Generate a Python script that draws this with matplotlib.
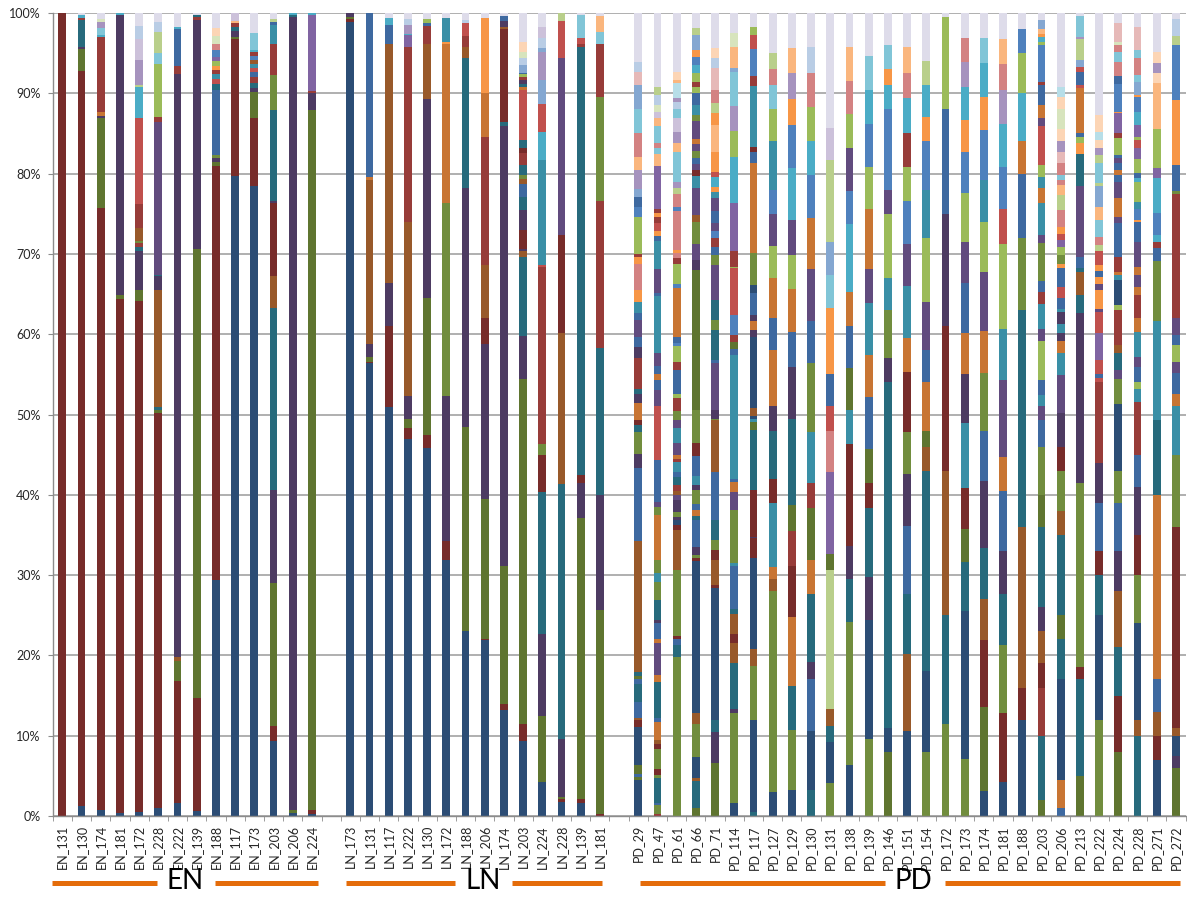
import numpy as np
import matplotlib.pyplot as plt
from matplotlib.transforms import blended_transform_factory

plt.rcParams['font.family'] = ['Lato', 'DejaVu Sans']

# colour codes: 0-5 dark, 6-11 medium, 12-17 base, 18-23 light, 24-29 pale shades, 30 = rest
palette = ['#2C4D75', '#772C2A', '#5F7530', '#4D3B62', '#276A7C', '#98592A',
           '#3E69A0', '#973C39', '#718D3E', '#614B7E', '#3A8FA6', '#C87533',
           '#4F81BD', '#C0504D', '#9BBB59', '#8064A2', '#4BACC6', '#F79646',
           '#84A7D1', '#D38282', '#B9CF8B', '#A693BE', '#81C5D7', '#FAB67E',
           '#B9CDE5', '#E6B9B8', '#D7E4BD', '#CCC1DA', '#B7DEE8', '#FCD5B5',
           '#DEDCEA']

en_labels = ['EN_131', 'EN_130', 'EN_174', 'EN_181', 'EN_172', 'EN_228', 'EN_222',
             'EN_139', 'EN_188', 'EN_117', 'EN_173', 'EN_203', 'EN_206', 'EN_224']
ln_labels = ['LN_173', 'LN_131', 'LN_117', 'LN_222', 'LN_130', 'LN_172', 'LN_188',
             'LN_206', 'LN_174', 'LN_203', 'LN_224', 'LN_228', 'LN_139', 'LN_181']
pd_labels = ['PD_29', 'PD_47', 'PD_61', 'PD_66', 'PD_71', 'PD_114', 'PD_117', 'PD_127',
             'PD_129', 'PD_130', 'PD_131', 'PD_138', 'PD_139', 'PD_146', 'PD_151', 'PD_154',
             'PD_172', 'PD_173', 'PD_174', 'PD_181', 'PD_188', 'PD_203', 'PD_206', 'PD_213',
             'PD_222', 'PD_224', 'PD_228', 'PD_271', 'PD_272']

# each bar: (colour code, % share) from bottom to top
en_segments = [
    [(1, 100)],
    [(0, 1.2), (1, 91.6), (2, 2.7), (3, 0.3), (4, 3.3), (7, 0.3), (16, 0.3), (30, 0.3)],
    [(0, 0.8), (1, 74.9), (2, 11.2), (3, 0.3), (11, 0.5), (7, 9.3), (16, 0.3), (22, 0.8), (21, 0.8), (26, 0.3), (30, 0.8)],
    [(0, 0.4), (1, 64.0), (2, 0.5), (3, 34.8), (16, 0.3)],
    [(0, 0.5), (1, 63.6), (2, 1.4), (3, 4.8), (4, 0.5), (7, 0.5), (8, 0.3), (5, 1.6), (7, 3.0), (13, 10.7), (16, 3.9),
     (20, 0.2), (21, 3.2), (27, 2.5), (24, 1.7), (30, 1.6)],
    [(0, 1.0), (1, 49.2), (2, 0.4), (4, 0.3), (5, 14.6), (3, 1.7), (4, 0.2), (9, 19.0), (7, 0.7), (14, 6.6), (22, 1.3),
     (20, 2.6), (24, 1.3), (30, 1.1)],
    [(0, 1.6), (1, 15.2), (2, 2.5), (5, 0.5), (3, 72.6), (7, 1.0), (6, 4.6), (16, 0.3), (30, 1.7)],
    [(0, 0.6), (1, 14.1), (2, 55.9), (3, 28.5), (7, 0.4), (4, 0.3), (30, 0.2)],
    [(0, 29.4), (1, 51.6), (2, 0.5), (3, 0.4), (8, 0.4), (6, 8.1), (4, 0.8), (13, 0.6), (10, 0.6), (7, 0.5), (17, 0.5),
     (14, 0.6), (15, 0.5), (12, 0.9), (19, 0.8), (26, 0.9), (29, 1.0), (30, 1.9)],
    [(0, 79.7), (1, 17.0), (2, 0.3), (3, 0.8), (4, 0.5), (7, 0.4), (23, 0.3), (27, 1.0)],
    [(0, 78.5), (1, 8.4), (2, 3.2), (3, 0.6), (4, 0.6), (7, 0.7), (6, 0.6), (13, 0.5), (10, 0.6), (5, 0.4), (12, 0.5),
     (7, 0.5), (16, 0.3), (22, 2.1), (30, 2.5)],
    [(0, 9.3), (1, 1.9), (2, 17.8), (3, 11.6), (4, 22.7), (5, 3.9), (1, 9.1), (3, 0.3), (4, 11.3), (8, 4.4), (7, 3.8),
     (10, 2.4), (6, 0.4), (20, 0.4), (30, 0.7)],
    [(0, 0.4), (2, 0.3), (3, 98.8), (4, 0.3), (16, 0.2)],
    [(0, 0.3), (1, 0.4), (2, 87.2), (3, 2.1), (7, 0.3), (15, 9.4), (16, 0.3)],
]

ln_segments = [
    [(0, 98.9), (1, 0.3), (2, 0.3), (3, 0.5)],
    [(0, 56.4), (1, 0.2), (2, 0.5), (3, 1.7), (5, 20.4), (11, 0.4), (6, 20.4)],
    [(0, 50.9), (1, 10.1), (3, 5.4), (5, 29.7), (6, 2.4), (16, 0.9), (30, 0.6)],
    [(0, 46.9), (1, 1.4), (2, 1.1), (3, 2.9), (5, 21.7), (7, 21.8), (15, 1.4), (16, 0.2), (21, 1.1), (24, 0.7), (30, 0.8)],
    [(0, 45.8), (1, 1.6), (2, 17.1), (3, 24.8), (5, 6.9), (7, 2.2), (6, 0.4), (14, 0.4), (30, 0.8)],
    [(0, 31.9), (1, 2.3), (2, 0.1), (3, 18.0), (8, 24.0), (11, 19.9), (17, 0.2), (10, 3.0), (30, 0.6)],
    [(0, 23.0), (1, 0.1), (2, 25.3), (3, 29.8), (4, 16.2), (5, 1.4), (7, 1.3), (13, 1.7), (24, 0.3), (30, 0.9)],
    [(0, 21.9), (1, 0.2), (2, 17.4), (3, 19.3), (1, 3.2), (5, 6.6), (7, 16.0), (11, 5.4), (17, 9.4), (30, 0.6)],
    [(0, 13.2), (1, 0.7), (2, 17.2), (3, 54.8), (4, 0.5), (1, 11.6), (5, 0.3), (3, 0.7), (6, 0.6), (30, 0.4)],
    [(0, 9.3), (1, 2.2), (2, 42.9), (3, 5.4), (4, 9.8), (5, 0.7), (3, 0.3), (1, 2.4), (3, 2.5), (4, 1.6), (6, 1.6),
     (5, 0.6), (8, 0.5), (4, 1.3), (7, 1.5), (1, 0.6), (4, 1.0), (13, 6.2), (11, 0.4), (4, 0.4), (3, 0.4), (7, 0.4),
     (14, 0.4), (6, 0.1), (18, 1.0), (24, 0.9), (26, 0.8), (29, 1.2), (30, 3.6)],
    [(0, 4.2), (2, 8.3), (3, 10.2), (4, 17.7), (1, 4.6), (8, 1.3), (7, 22.1), (13, 0.2), (10, 13.1), (16, 3.5),
     (13, 3.5), (18, 3.0), (21, 3.4), (18, 0.6), (24, 1.2), (27, 1.4), (30, 1.7)],
    [(0, 1.8), (1, 0.3), (2, 0.3), (3, 7.2), (4, 31.8), (5, 18.8), (1, 12.2), (9, 22.0), (13, 4.6), (20, 1.0)],
    [(0, 1.6), (1, 0.5), (2, 35.0), (3, 4.4), (1, 1.0), (4, 53.3), (7, 0.4), (13, 0.7), (22, 2.9), (30, 0.2)],
    [(1, 0.3), (2, 25.4), (3, 14.3), (4, 18.3), (7, 18.3), (8, 12.9), (7, 6.7), (22, 1.4), (23, 2.0), (30, 0.4)],
]

pd_segments = [
    # PD_29
    [(0, 4.5), (2, 0.3), (6, 0.4), (2, 1.2), (0, 4.7), (1, 0.8), (5, 0.3), (6, 2.0), (4, 2.3), (6, 0.5), (2, 0.4),
     (4, 0.5), (5, 16.3), (6, 9.1), (3, 1.8), (8, 2.7), (4, 0.9), (1, 0.6), (11, 2.1), (3, 1.2), (4, 0.6), (7, 3.8),
     (3, 1.4), (6, 1.3), (9, 2.1), (6, 0.9), (10, 1.3), (17, 1.5), (19, 3.3), (17, 0.8), (7, 0.4), (14, 4.6),
     (12, 1.3), (6, 1.2), (18, 1.0), (21, 2.3), (23, 1.7), (19, 2.9), (22, 3.1), (18, 2.9), (25, 1.7), (24, 1.2),
     (30, 6.1)],
    # PD_47
    [(7, 0.25), (8, 1.15), (6, 0.2), (4, 3.1), (8, 0.4), (1, 0.8), (8, 2.5), (1, 0.6), (5, 0.5), (11, 2.2), (6, 0.5),
     (4, 4.5), (11, 0.9), (9, 3.9), (11, 0.5), (6, 2.0), (3, 0.4), (4, 2.5), (8, 2.3), (10, 1.0), (8, 1.7), (11, 5.6),
     (8, 1.0), (9, 0.6), (6, 5.2), (13, 6.7), (9, 2.1), (6, 1.2), (11, 0.8), (6, 0.9), (9, 1.6), (10, 7.1), (6, 0.4),
     (9, 3.0), (10, 3.5), (6, 0.6), (17, 0.6), (13, 1.0), (7, 0.8), (17, 0.5), (7, 0.5), (15, 5.3), (23, 1.6),
     (22, 0.7), (19, 0.6), (22, 2.1), (23, 1.0), (27, 0.8), (26, 0.8), (24, 1.3), (20, 1.0), (30, 9.2)],
    # PD_61
    [(8, 19.8), (4, 1.5), (6, 0.8), (1, 0.3), (8, 8.2), (5, 5.0), (1, 0.6), (0, 0.7), (3, 0.3), (8, 0.7), (3, 1.5),
     (9, 0.6), (5, 0.5), (7, 0.7), (4, 1.0), (6, 0.6), (10, 1.3), (7, 0.3), (11, 0.5), (9, 1.5), (10, 1.9), (9, 1.0),
     (8, 1.1), (7, 1.6), (14, 0.6), (6, 2.9), (7, 1.1), (14, 1.9), (12, 0.4), (6, 0.8), (11, 6.0), (12, 0.6),
     (14, 2.5), (7, 0.7), (19, 0.6), (17, 0.4), (19, 4.9), (12, 0.5), (19, 1.6), (20, 0.7), (21, 0.7), (22, 3.8),
     (23, 1.1), (21, 1.4), (27, 1.7), (22, 1.2), (24, 0.8), (21, 0.5), (28, 1.9), (23, 0.4), (29, 1.0), (30, 7.3)],
    # PD_66
    [(2, 0.95), (4, 3.35), (5, 0.4), (0, 2.7), (8, 4.1), (5, 1.3), (0, 18.9), (1, 0.4), (8, 0.4), (3, 1.0), (6, 3.4),
     (4, 0.4), (11, 0.8), (6, 0.8), (8, 1.7), (3, 0.6), (10, 1.1), (6, 2.5), (1, 1.6), (8, 4.2), (2, 17.4), (3, 1.2),
     (9, 2.0), (8, 2.8), (5, 0.9), (9, 3.3), (10, 1.5), (1, 0.7), (9, 0.8), (6, 0.8), (8, 0.8), (9, 0.9), (11, 0.6),
     (9, 2.2), (8, 0.8), (10, 1.2), (6, 1.5), (14, 0.8), (7, 0.6), (14, 1.1), (16, 1.0), (12, 1.0), (17, 0.9),
     (18, 1.9), (20, 0.8), (30, 1.9)],
    # PD_71
    [(2, 6.6), (3, 3.9), (4, 1.5), (0, 16.4), (1, 0.4), (5, 3.1), (1, 1.2), (8, 1.3), (4, 2.5), (6, 6.0), (5, 6.4),
     (8, 0.2), (3, 1.1), (9, 5.8), (6, 0.4), (4, 3.7), (8, 1.3), (4, 2.5), (9, 4.3), (8, 1.3), (6, 1.0), (7, 1.1),
     (12, 0.8), (9, 1.1), (6, 1.5), (9, 1.5), (10, 0.8), (17, 0.6), (16, 1.3), (13, 0.6), (17, 2.5), (23, 3.3),
     (17, 1.5), (20, 1.3), (19, 1.6), (25, 2.7), (24, 1.3), (29, 1.2), (30, 4.4)],
    # PD_114
    [(0, 1.6), (8, 11.2), (3, 0.5), (4, 5.7), (5, 2.5), (1, 1.2), (5, 2.5), (4, 0.6), (6, 5.3), (10, 0.4), (8, 6.6),
     (9, 2.3), (11, 1.2), (6, 0.4), (10, 15.4), (6, 0.8), (2, 0.8), (7, 0.9), (12, 2.5), (13, 5.8), (14, 0.2),
     (7, 1.9), (15, 6.0), (16, 5.8), (14, 3.2), (21, 3.1), (22, 4.3), (18, 0.4), (23, 2.7), (26, 1.7), (30, 2.5)],
    # PD_117
    [(4, 0.5), (0, 11.5), (8, 6.7), (5, 2.1), (0, 11.3), (1, 2.5), (3, 0.2), (1, 5.8), (4, 7.5), (2, 1.0), (10, 0.4),
     (0, 0.3), (5, 1.0), (0, 8.9), (3, 0.8), (11, 1.1), (3, 0.8), (6, 2.7), (0, 1.0), (8, 4.0), (11, 11.2), (6, 1.4),
     (1, 0.6), (10, 7.6), (7, 1.3), (12, 3.3), (13, 1.7), (14, 1.0), (30, 1.8)],
    # PD_127
    [(0, 3), (8, 25), (5, 1.5), (11, 1.5), (10, 8), (1, 3), (4, 6), (3, 3), (11, 7), (6, 4), (11, 5), (14, 4), (9, 4),
     (12, 3), (10, 6), (14, 4), (22, 3), (19, 2), (20, 2), (30, 5)],
    # PD_129
    [(0, 3), (8, 7), (4, 5), (11, 8), (1, 6), (7, 4), (2, 3), (4, 10), (3, 6), (6, 4), (11, 5), (14, 4), (9, 4),
     (16, 6), (12, 5), (17, 3), (21, 3), (23, 3), (30, 4)],
    # PD_130
    [(4, 3), (0, 7), (6, 6), (3, 2), (4, 8), (11, 4), (2, 6), (7, 3), (10, 6), (8, 8), (6, 5), (9, 6), (11, 6),
     (12, 5), (16, 4), (14, 4), (19, 4), (24, 3), (30, 4)],
    # PD_131
    [(8, 4), (0, 5), (4, 2), (5, 2), (20, 17), (2, 2), (15, 10), (19, 5), (13, 3), (6, 4), (17, 8), (22, 4), (18, 4),
     (20, 10), (27, 4), (30, 14)],
    # PD_138
    [(0, 6), (8, 17), (4, 5), (3, 4), (1, 12), (10, 4), (2, 5), (6, 5), (11, 4), (16, 8), (12, 4), (9, 5), (14, 4),
     (19, 4), (23, 4), (30, 4)],
    # PD_139
    [(8, 9), (0, 14), (3, 5), (4, 8), (1, 3), (2, 4), (6, 6), (11, 5), (10, 6), (9, 4), (11, 7), (14, 5), (12, 5),
     (16, 4), (22, 4), (30, 5)],
    # PD_146
    [(2, 8), (0, 3), (4, 43), (3, 3), (8, 6), (10, 4), (14, 8), (9, 3), (12, 10), (16, 3), (17, 2), (22, 3), (30, 4)],
    # PD_151
    [(0, 10), (5, 9), (4, 7), (6, 8), (3, 6), (8, 5), (1, 7), (11, 4), (10, 6), (9, 5), (12, 5), (14, 4), (7, 4),
     (16, 4), (19, 3), (23, 3), (30, 4)],
    # PD_154
    [(8, 8), (0, 10), (4, 25), (5, 3), (2, 2), (11, 6), (6, 4), (9, 6), (14, 8), (10, 6), (12, 6), (17, 3), (16, 4),
     (20, 3), (30, 6)],
    # PD_172
    [(8, 11.5), (4, 13.5), (5, 18), (1, 18), (3, 14), (6, 13), (14, 11.5), (30, 0.5)],
    # PD_173
    [(8, 7), (0, 18), (4, 6), (2, 4), (1, 5), (10, 8), (3, 6), (11, 5), (6, 6), (9, 5), (14, 6), (12, 5), (17, 4),
     (16, 4), (21, 3), (19, 3), (30, 3)],
    # PD_174
    [(0, 3), (2, 10), (1, 8), (5, 5), (4, 6), (3, 8), (6, 6), (8, 7), (11, 5), (9, 7), (14, 6), (10, 5), (12, 6),
     (17, 4), (16, 4), (22, 3), (30, 3)],
    # PD_181
    [(0, 4), (1, 8), (8, 8), (4, 6), (3, 5), (6, 7), (11, 4), (9, 9), (10, 6), (14, 10), (13, 4), (12, 5), (16, 5),
     (21, 4), (19, 3), (23, 3), (30, 3)],
    # PD_188
    [(0, 12), (1, 4), (5, 20), (4, 27), (8, 9), (6, 8), (11, 4), (16, 6), (14, 5), (12, 3), (30, 2)],
    # PD_203
    [(2, 2), (4, 8), (7, 6), (1, 3), (5, 4), (3, 3), (4, 10), (2, 4), (8, 6), (6, 3.3),
     (9, 1.8), (10, 1.3), (6, 1.9), (14, 4.9), (9, 1.5), (10, 3.1), (7, 1.5), (6, 1.3), (8, 4.7), (9, 1.1), (10, 3.9),
     (11, 1.9), (10, 1.4), (14, 1.5), (13, 4.8), (9, 1.0), (11, 1.6), (6, 2.5), (7, 0.4), (12, 4.6), (14, 0.4),
     (16, 0.6), (17, 0.4), (23, 0.6), (18, 1.1), (30, 0.9)],
    # PD_206
    [(6, 1), (11, 3.5), (0, 12.5), (4, 5), (2, 3), (4, 10), (5, 3), (8, 5), (1, 3), (3, 4.2),
     (9, 4.7), (10, 2.7), (11, 1.5), (3, 1.0), (10, 1.2), (3, 1.5), (10, 0.4), (6, 1.3), (13, 1.4), (6, 2.3),
     (17, 0.6), (8, 1.1), (14, 1.0), (15, 0.8), (13, 0.8), (17, 0.9), (19, 2.1), (20, 1.8), (23, 1.3), (19, 0.6),
     (22, 0.6), (19, 1.5), (25, 1.4), (21, 1.3), (29, 1.6), (26, 2.4), (29, 1.6), (28, 1.2), (30, 9.2)],
    # PD_213
    [(2, 5), (4, 12), (1, 1.5), (8, 23), (3, 7.8),
     (3, 13.3), (4, 2.3), (5, 2.9), (4, 0.4), (6, 1.4), (9, 8.8), (4, 4.1), (17, 1.3), (14, 0.7), (6, 0.5), (11, 5.6),
     (13, 0.4), (6, 1.7), (13, 0.6), (18, 0.9), (20, 2.6), (21, 0.2), (22, 2.6), (30, 0.4)],
    # PD_222
    [(8, 12), (0, 13), (4, 5), (1, 3), (6, 6), (3, 5), (7, 5.3),
     (7, 4.8), (13, 0.4), (6, 0.6), (13, 1.7), (15, 3.3), (13, 2.7), (9, 0.4), (17, 2.3), (9, 0.8), (17, 0.8),
     (6, 0.8), (17, 0.7), (13, 1.7), (20, 0.8), (19, 1.0), (22, 2.1), (23, 1.7), (18, 2.5), (20, 0.4), (22, 2.5),
     (20, 1.0), (21, 0.9), (29, 1.0), (28, 1.0), (29, 2.1), (30, 12.7)],
    # PD_224
    [(2, 8), (1, 7), (4, 6), (5, 7), (3, 5), (6, 6), (8, 4), (0, 6.3),
     (0, 2.0), (8, 3.1), (9, 1.1), (4, 2.1), (5, 1.0), (7, 4.4), (14, 0.6), (0, 3.2), (10, 0.6), (11, 0.4),
     (7, 1.8), (6, 4.2), (9, 0.8), (11, 2.4), (9, 2.0), (6, 0.8), (11, 0.6), (6, 0.9), (9, 0.6), (6, 0.4),
     (14, 2.1), (7, 0.6), (15, 2.5), (17, 0.2), (12, 3.5), (6, 0.9), (19, 1.8), (22, 1.3), (19, 0.8), (26, 0.4),
     (25, 2.3), (30, 1.3)],
    # PD_228
    [(4, 10), (5, 2), (0, 12), (8, 6), (1, 5), (3, 6), (6, 4), (7, 4.3),
     (7, 2.3), (10, 1.6), (14, 0.9), (6, 1.8), (9, 1.3), (10, 3.1), (11, 1.7), (7, 2.9), (11, 1.0), (9, 1.5),
     (11, 1.0), (9, 3.1), (6, 2.5), (17, 0.2), (12, 1.4), (10, 0.9), (14, 2.5), (16, 0.4), (6, 0.7), (14, 1.7),
     (15, 1.4), (13, 1.0), (14, 0.4), (15, 1.4), (16, 1.7), (12, 1.8), (17, 0.3), (18, 1.6), (22, 0.9), (19, 2.1),
     (22, 1.0), (25, 1.2), (25, 1.7), (30, 1.7)],
    # PD_271
    [(0, 7), (1, 3), (5, 3), (6, 4), (11, 23), (4, 9.3),
     (10, 7.9), (10, 4.4), (8, 7.5), (6, 1.6), (7, 0.8), (16, 0.9), (12, 2.7), (16, 4.3), (15, 1.3), (14, 4.8),
     (23, 2.9), (23, 2.9), (29, 1.2), (21, 1.3), (29, 1.4), (30, 4.8)],
    # PD_272
    [(2, 6), (3, 1.5), (0, 2.5), (5, 1), (1, 25), (8, 9), (10, 5.3),
     (10, 0.8), (11, 1.4), (6, 2.7), (9, 1.4), (14, 2.1), (6, 1.2), (9, 2.1), (7, 15.4), (8, 0.4), (6, 3.3),
     (17, 8.1), (12, 6.8), (20, 1.1), (24, 2.2), (30, 0.7)],
]

# one empty slot between groups
labels = en_labels + [''] + ln_labels + [''] + pd_labels
segments = en_segments + [[]] + ln_segments + [[]] + pd_segments

xs, hs, bs, cs = [], [], [], []
for i, segs in enumerate(segments):
    total = sum(v for _, v in segs)
    bottom = 0.0
    for c, v in segs:
        h = v * 100.0 / total
        xs.append(i)
        hs.append(h)
        bs.append(bottom)
        cs.append(palette[c])
        bottom += h

fig = plt.figure(figsize=(11.87, 8.97), dpi=100)
ax = fig.add_axes([52.7 / 1187, 81 / 897, 1132.8 / 1187, 803 / 897])
ax.bar(xs, hs, bottom=bs, color=cs, width=0.41, linewidth=0)

ax.set_xlim(-0.5, len(labels) - 0.5)
ax.set_ylim(0, 100)
ax.set_yticks(range(0, 101, 10))
ax.set_yticklabels([f'{v}%' for v in range(0, 101, 10)])
ax.set_xticks(range(len(labels)))
ax.set_xticklabels(labels, rotation=90)
ax.set_xticks(np.arange(-0.5, len(labels), 1), minor=True)

ax.set_axisbelow(True)
ax.yaxis.grid(True, color='#9A9A9A', linewidth=1.1)
for s in ['top', 'right']:
    ax.spines[s].set_visible(False)
for s in ['left', 'bottom']:
    ax.spines[s].set_color('#8C8C8C')
    ax.spines[s].set_linewidth(1.0)
ax.tick_params(axis='y', length=3.6, color='#8C8C8C', labelsize=9, pad=5, labelcolor='#262626')
ax.tick_params(axis='x', which='major', length=0, labelsize=9, pad=6.5, labelcolor='#262626')
ax.tick_params(axis='x', which='minor', length=3.6, color='#8C8C8C')

# group markers under the axis
trans = blended_transform_factory(ax.transData, fig.transFigure)
for x0, x1 in [(-0.54, 4.93), (7.95, 13.32), (14.78, 20.45), (23.42, 28.1), (30.09, 42.85), (45.97, 58.2)]:
    ax.plot([x0, x1], [0.0159, 0.0159], color='#E46C0A', linewidth=3.6, transform=trans,
            clip_on=False, solid_capstyle='butt')
for name, x in [('EN', 6.39), ('LN', 21.91), ('PD', 44.35)]:
    ax.text(x, 0.0175, name, transform=trans, ha='center', va='center', fontsize=20, color='black')

fig.savefig('out.png', dpi=100)
